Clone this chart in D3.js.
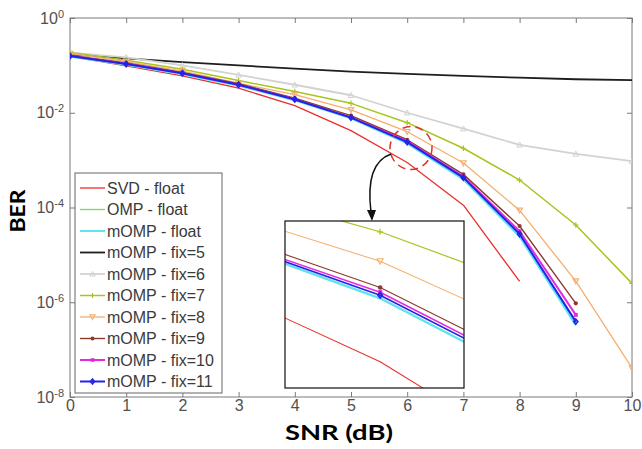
<!DOCTYPE html>
<html><head><meta charset="utf-8">
<script src="https://cdn.jsdelivr.net/npm/d3@7"></script>
<style>body{margin:0;background:#fff}svg{display:block}</style>
</head><body>
<svg id="c" width="642" height="449"></svg>
<script>
const snr = [0,1,2,3,4,5,6,7,8,9,10];
const xTicks = [0,1,2,3,4,5,6,7,8,9,10];
const yTicks = [1,1e-2,1e-4,1e-6,1e-8];
const seriesNames = ["SVD - float","OMP - float","mOMP - float","mOMP - fix=5","mOMP - fix=6","mOMP - fix=7","mOMP - fix=8","mOMP - fix=9","mOMP - fix=10","mOMP - fix=11"];
const svdFloat = [0.155,0.098,0.060,0.033,0.0141,0.0042,0.00089,0.000112,2.75e-6];
const ompFloat = [0.155,0.104,0.066,0.038,0.0185,0.0077,0.00228,0.000398,2.5e-5,3.3e-7];
const mompFloat = [0.155,0.105,0.066,0.038,0.0186,0.0078,0.00229,0.000400,2.51e-5,3.4e-7];
const fix5 = [0.170,0.141,0.117,0.100,0.085,0.074,0.066,0.060,0.055,0.051,0.049];
const fix6 = [0.186,0.148,0.100,0.063,0.039,0.0234,0.0100,0.0046,0.0021,0.00135,0.00095];
const fix7 = [0.186,0.129,0.083,0.048,0.028,0.0158,0.00617,0.00178,0.00038,4.27e-5,2.5e-6];
const fix8 = [0.178,0.120,0.076,0.042,0.024,0.0115,0.00398,0.00087,8.7e-5,2.8e-6,4.1e-8];
const fix9 = [0.162,0.112,0.071,0.041,0.0204,0.0087,0.00269,0.00050,4.07e-5,9.5e-7];
const fix10 = [0.158,0.108,0.068,0.039,0.0192,0.0080,0.00251,0.000447,3.16e-5,5.4e-7];
const fix11 = [0.158,0.107,0.068,0.039,0.0191,0.0079,0.00240,0.000427,2.75e-5,3.9e-7];

const svg = d3.select("#c");
const x = d3.scaleLinear().domain([0,10]).range([70,632]);
const y = d3.scaleLog().domain([1,1e-8]).range([18,397]);

const styles = [
 {c:"#e8302c", w:1.3, m:null},
 {c:"#6ee04a", w:1.3, m:null},
 {c:"#5fe3f2", w:2.8, m:null},
 {c:"#1e1e1e", w:1.8, m:null},
 {c:"#d2d2d2", w:1.8, m:"tri"},
 {c:"#a9c41c", w:1.5, m:"plus"},
 {c:"#f4ae6e", w:1.3, m:"tridown"},
 {c:"#8a3b2c", w:1.4, m:"dot"},
 {c:"#e22be0", w:2.0, m:"sq"},
 {c:"#2323e6", w:2.0, m:"dia"}
];
const data = [svdFloat,ompFloat,mompFloat,fix5,fix6,fix7,fix8,fix9,fix10,fix11];

const axColor = "#7a7a7a";
function styleAxis(g){ g.select(".domain").remove(); g.selectAll("line").attr("stroke",axColor); g.selectAll("text").attr("fill","#505050").style("font-family","Liberation Sans, Arial, sans-serif").style("font-size","16px"); }
svg.append("g").attr("transform","translate(0,397)").call(d3.axisBottom(x).tickValues(xTicks).tickSizeInner(-5).tickSizeOuter(0).tickPadding(3).tickFormat(d3.format("d"))).call(styleAxis);
svg.append("g").attr("transform","translate(0,18)").call(d3.axisTop(x).tickValues(xTicks).tickSizeInner(-5).tickSizeOuter(0).tickFormat("")).call(styleAxis);
const ya = svg.append("g").attr("transform","translate(70,0)").call(d3.axisLeft(y).tickValues(yTicks).tickSizeInner(-5).tickSizeOuter(0).tickPadding(6).tickFormat(d=>"")).call(styleAxis);
ya.selectAll(".tick text").each(function(d){
  const t = d3.select(this); const e = Math.round(Math.log10(d));
  t.text(null).attr("dy","0.32em");
  t.append("tspan").text("10");
  t.append("tspan").attr("dy","-0.55em").style("font-size","11px").text(e===0?"0":"-"+(-e));
});
svg.append("g").attr("transform","translate(632,0)").call(d3.axisRight(y).tickValues(yTicks).tickSizeInner(-5).tickSizeOuter(0).tickFormat("")).call(styleAxis);
svg.append("rect").attr("x",70).attr("y",18).attr("width",562).attr("height",379).attr("fill","none").attr("stroke",axColor).attr("stroke-width",1);

svg.append("clipPath").attr("id","pc").append("rect").attr("x",70).attr("y",18).attr("width",562).attr("height",379);
svg.append("clipPath").attr("id","ic").append("rect").attr("x",285).attr("y",221).attr("width",179).attr("height",167);

function marker(g, type, cx, cy, col, s){
  if(type==="plus"){ g.append("path").attr("d",`M${cx-s},${cy}H${cx+s}M${cx},${cy-s}V${cy+s}`).attr("stroke",col).attr("stroke-width",1.2).attr("fill","none"); }
  else if(type==="tri"){ g.append("path").attr("d",`M${cx},${cy-s}L${cx+s},${cy+s*0.8}L${cx-s},${cy+s*0.8}Z`).attr("stroke",col).attr("stroke-width",1).attr("fill","none"); }
  else if(type==="tridown"){ g.append("path").attr("d",`M${cx},${cy+s}L${cx+s},${cy-s*0.8}L${cx-s},${cy-s*0.8}Z`).attr("stroke",col).attr("stroke-width",1.1).attr("fill","none"); }
  else if(type==="dot"){ g.append("circle").attr("cx",cx).attr("cy",cy).attr("r",s*0.75).attr("fill",col); }
  else if(type==="sq"){ g.append("rect").attr("x",cx-s*0.7).attr("y",cy-s*0.7).attr("width",s*1.4).attr("height",s*1.4).attr("fill",col); }
  else if(type==="dia"){ g.append("path").attr("d",`M${cx},${cy-s}L${cx+s*0.8},${cy}L${cx},${cy+s}L${cx-s*0.8},${cy}Z`).attr("stroke",col).attr("stroke-width",1.4).attr("fill",col).attr("fill-opacity",0.6); }
}

function drawSeries(g, xs, ys, wScale, markerFilter, ms){
  data.forEach((arr,i)=>{
    const st = styles[i];
    const pts = arr.map((v,j)=>[snr[j],v]);
    const line = d3.line().x(d=>xs(d[0])).y(d=>ys(d[1]));
    g.append("path").attr("d",line(pts)).attr("fill","none").attr("stroke",st.c).attr("stroke-width",st.w*wScale).attr("stroke-linejoin","round");
    if(st.m){ pts.forEach(p=>{ if(markerFilter(p[0])) marker(g, st.m, xs(p[0]), ys(p[1]), st.c, ms); }); }
  });
}
const main = svg.append("g").attr("clip-path","url(#pc)");
drawSeries(main, x, y, 1, ()=>true, 2.8);

svg.append("ellipse").attr("cx",411).attr("cy",148).attr("rx",21).attr("ry",21.5).attr("fill","none").attr("stroke","#e0302a").attr("stroke-width",1.5).attr("stroke-dasharray","8,5");
svg.append("path").attr("d","M391,154 C374,160 367,180 371,212").attr("fill","none").attr("stroke","#111").attr("stroke-width",1.5);
svg.append("path").attr("d","M367,210 L376,210 L372,221 Z").attr("fill","#111");

const xi = d3.scaleLinear().domain([5.58,6.37]).range([285,464]);
const yi = d3.scaleLog().domain([Math.pow(10,-2.14),Math.pow(10,-3.22)]).range([221,388]);
svg.append("rect").attr("x",285).attr("y",221).attr("width",179).attr("height",167).attr("fill","#fff");
const ins = svg.append("g").attr("clip-path","url(#ic)");
drawSeries(ins, xi, yi, 0.8, v=>v===6, 3);
svg.append("rect").attr("x",285).attr("y",221).attr("width",179).attr("height",167).attr("fill","none").attr("stroke","#222").attr("stroke-width",1.3);

const lg = svg.append("g");
lg.append("rect").attr("x",75).attr("y",173).attr("width",147).attr("height",220).attr("fill","#fff").attr("stroke","#666").attr("stroke-width",1);
seriesNames.forEach((n,i)=>{
  const yy = 188 + i*21.5; const st = styles[i];
  lg.append("line").attr("x1",80).attr("x2",105).attr("y1",yy).attr("y2",yy).attr("stroke",st.c).attr("stroke-width",Math.min(st.w,2));
  if(st.m) marker(lg, st.m, 92.5, yy, st.c, 2.6);
  lg.append("text").attr("x",107).attr("y",yy).attr("dy","0.35em").text(n).attr("fill","#3a3a3a").style("font-family","Liberation Sans, Arial, sans-serif").style("font-size","16px");
});

svg.append("text").attr("x",339).attr("y",440).attr("text-anchor","middle").attr("textLength",108).attr("lengthAdjust","spacingAndGlyphs").text("SNR (dB)").style("font-family","Lato, 'Open Sans', sans-serif").style("font-weight","700").style("font-size","20px").attr("fill","#000");
svg.append("text").attr("transform","translate(25,211) rotate(-90)").attr("text-anchor","middle").attr("textLength",43).attr("lengthAdjust","spacingAndGlyphs").text("BER").style("font-family","Lato, 'Open Sans', sans-serif").style("font-weight","700").style("font-size","21px").attr("fill","#000");
</script>
</body></html>
